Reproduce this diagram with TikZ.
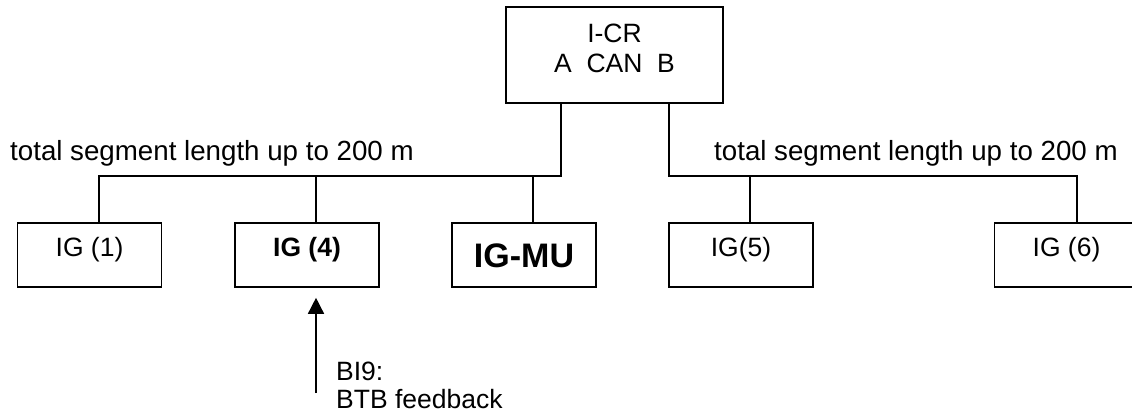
\documentclass[tikz,border=0pt]{standalone}
\usepackage{fontspec}
\setmainfont{Liberation Sans}
\usetikzlibrary{arrows.meta}
\begin{document}
\begin{tikzpicture}[x=1pt,y=-1pt,
  box/.style={draw, line width=1.6pt, minimum width=144pt, minimum height=64pt, inner sep=0pt, text height=13pt, text depth=11pt, font=\fontsize{26.5}{30}\selectfont},
  boldbox/.style={box, font=\fontsize{26.5}{30}\selectfont\bfseries},
  wire/.style={line width=1.5pt},
  lbl/.style={inner sep=0pt, font=\fontsize{27.7}{33}\selectfont}]
\useasboundingbox (0,0) rectangle (1132,414);
\clip (0,0) rectangle (1132,414);
% top box
\node[draw, line width=1.6pt, minimum width=217pt, minimum height=96pt, inner sep=0pt] (cr) at (614.5,55) {};
\node[inner sep=0pt, align=center, anchor=base, font=\fontsize{26.5}{30}\selectfont] (crt) at (614.5,73) {I-CR\\A~~CAN~~B};
% lower boxes
\node[box] (ig1) at (89.5,255) {IG (1)};
\node[boldbox] (ig4) at (307,255) {IG (4)};
\node[box, text height=24.5pt, text depth=0pt, font=\fontsize{34}{40}\selectfont\bfseries] (igmu) at (524,255) {IG-MU};
\node[box] (ig5) at (741,255) {IG(5)};
\node[box] (ig6) at (1066.5,255) {IG (6)};
% labels
\node[lbl, anchor=base west] (segl) at (10,161) {total segment length up to 200 m};
\node[lbl, anchor=base west] (segr) at (714,161) {total segment length up to 200 m};
% bus
\coordinate (jl) at (561,176);
\coordinate (jr) at (669,176);
\coordinate (t1) at ([xshift=9.5pt]ig1.north);
\coordinate (t4) at ([xshift=9pt]ig4.north);
\coordinate (tm) at ([xshift=9pt]igmu.north);
\coordinate (t5) at ([xshift=9pt]ig5.north);
\coordinate (t6) at ([xshift=10.5pt]ig6.north);
\draw[wire] (cr.south -| jl) -- (jl) -- (t1 |- jl) -- (t1);
\draw[wire] (t4 |- jl) -- (t4);
\draw[wire] (tm |- jl) -- (tm);
\draw[wire] (cr.south -| jr) -- (jr) -- (t6 |- jr) -- (t6);
\draw[wire] (t5 |- jr) -- (t5);
% feedback arrow
\coordinate (fb) at (316,393);
\draw[wire, -{Triangle[width=16pt,length=16pt]}, shorten >=10pt] (fb) -- (fb |- ig4.south);
\node[inner sep=0pt, align=left, anchor=base west, font=\fontsize{26.5}{28}\selectfont] (bi9) at (336,408) {BI9:\\BTB feedback};
\end{tikzpicture}
\end{document}
